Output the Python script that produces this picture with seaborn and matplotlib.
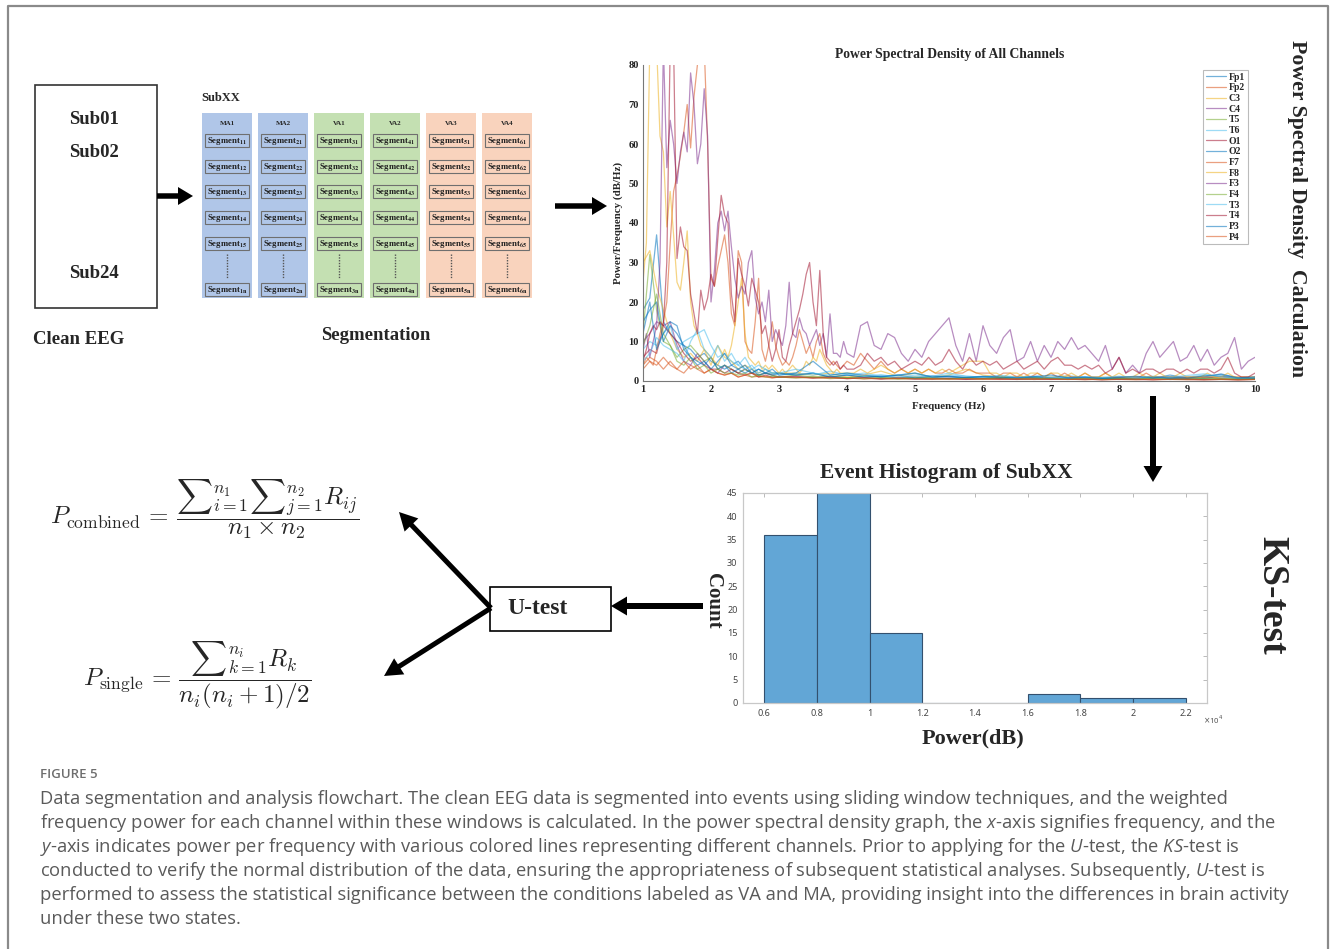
import matplotlib
matplotlib.use('Agg')
import numpy as np
import pandas as pd
import seaborn as sns
import matplotlib.pyplot as plt
from matplotlib.patches import Rectangle, FancyArrow

W, H = 1331, 949

# ---- PSD data ----
# prominent channels sampled on a finer grid
freq_hi = np.round(np.concatenate([np.arange(1.0, 4.001, 0.05), np.arange(4.1, 10.001, 0.1)]), 2)
# the quiet channels on a coarser grid
freq_lo = np.round(np.concatenate([np.arange(1.0, 3.001, 0.1), np.arange(3.25, 10.001, 0.25)]), 2)

F3 = [8, 12, 6, 10, 14, 30, 85, 54, 66, 60,
      50, 58, 63, 58, 78, 70, 55, 60, 74, 62,
      20, 28, 40, 43, 38, 43, 34, 26, 21, 24,
      22, 30, 33, 21, 17, 20, 15, 23, 10, 13,
      11, 9, 14, 25, 12, 11, 16, 13, 12, 9,
      11, 13, 9, 12, 6, 17, 7, 7, 6, 10,
      7,
      6, 14, 15, 9, 8, 12, 11, 7, 5, 8,
      6, 10, 12, 14, 16, 9, 5, 12, 5, 14,
      9, 7, 11, 13, 5, 6, 10, 5, 9, 6,
      10, 8, 11, 8, 9, 7, 5, 9, 3, 6,
      2, 4, 2, 7, 10, 6, 8, 10, 5, 6,
      9, 5, 8, 4, 6, 7, 11, 3, 5, 6]
T4 = [5, 8, 12, 14, 13, 15, 14, 30, 85, 85,
      31, 39, 34, 33, 22, 17, 12, 23, 18, 21,
      27, 24, 36, 47, 42, 40, 22, 15, 31, 27,
      24, 19, 26, 23, 20, 12, 14, 9, 5, 8,
      13, 6, 5, 9, 12, 15, 18, 22, 27, 30,
      20, 14, 28, 12, 6, 5, 4, 5, 3, 4,
      3,
      3, 4, 7, 5, 6, 4, 5, 3, 4, 5,
      4, 6, 4, 5, 8, 5, 3, 6, 4, 5,
      4, 5, 3, 4, 5, 3, 4, 5, 3, 5,
      6, 4, 4, 3, 4, 3, 4, 2, 3, 6,
      2, 3, 2, 3, 3, 2, 3, 3, 2, 3,
      2, 3, 3, 2, 3, 6, 2, 1, 1, 2]
F8 = [25, 35, 85, 85, 85, 62, 58, 39, 48, 37,
      25, 23, 30, 38, 20, 14, 12, 9, 8, 7,
      6, 5, 4, 6, 8, 6, 9, 14, 20, 26,
      12, 6, 5, 4, 5, 3, 4, 3, 4, 3,
      2, 3, 2, 3, 4, 3, 2, 3, 5, 4,
      6, 5, 8, 6, 4, 3, 2, 3, 2, 2,
      2,
      2, 3, 2, 3, 4, 3, 2, 3, 2, 3,
      2, 3, 2, 3, 2, 3, 4, 5, 5, 5,
      2, 2, 1, 2, 2, 1, 2, 2, 1, 2,
      2, 1, 2, 1, 2, 1, 1, 2, 1, 2,
      1, 1, 2, 1, 1, 2, 1, 1, 2, 1,
      1, 1, 2, 1, 1, 2, 1, 1, 1, 1]
F7 = [4, 6, 5, 4, 8, 12, 15, 20, 35, 48,
      52, 57, 63, 70, 59, 72, 80, 85, 85, 60,
      26, 24, 29, 33, 37, 30, 17, 14, 33, 30,
      10, 8, 7, 15, 26, 8, 5, 9, 15, 9,
      6, 4, 5, 4, 6, 9, 13, 10, 7, 9,
      6, 10, 12, 7, 5, 4, 5, 4, 3, 4,
      5,
      4, 7, 5, 3, 5, 3, 2, 3, 2, 3,
      2, 3, 2, 2, 3, 2, 2, 3, 2, 2,
      2, 1, 2, 2, 1, 2, 1, 2, 1, 2,
      1, 2, 1, 1, 2, 1, 1, 2, 1, 1,
      1, 1, 1, 2, 1, 1, 1, 1, 1, 1,
      1, 1, 1, 1, 1, 1, 1, 1, 1, 1]

Fp1 = [18, 21, 37, 15, 12, 10, 9, 8, 6, 7, 5, 4, 3, 4, 5, 3, 2, 3, 2, 2, 2,
       1.5, 2, 1, 1.5, 1, 1.2, 0.8, 1, 0.8, 1.2, 0.8, 1, 0.7, 0.9, 0.8, 0.6, 0.9, 0.7, 0.8, 0.6, 0.9, 0.7, 1.5, 0.8, 1, 1.8, 0.8, 0.6]
Fp2 = [4, 6, 5, 3, 5, 3, 2, 4, 3, 2, 3, 2, 1.5, 2, 1, 1.5, 1, 1.2, 1, 0.8, 1,
       0.8, 1, 0.6, 0.8, 0.5, 0.7, 0.5, 0.6, 0.4, 0.6, 0.5, 0.4, 0.6, 0.4, 0.5, 0.4, 0.5, 0.3, 0.5, 0.4, 0.3, 0.5, 0.4, 0.3, 0.4, 0.5, 0.3, 0.4]
C3 = [30, 33, 24, 18, 12, 8, 6, 7, 5, 8, 4, 9, 6, 5, 3, 4, 3, 2, 3, 2, 2,
      2, 1.5, 2, 1, 1.5, 2.5, 1.2, 2, 1, 1.5, 3, 1.5, 1, 1.2, 0.8, 1, 1.2, 0.8, 1, 0.7, 0.9, 1.1, 0.8, 0.7, 1, 0.8, 0.6, 0.9]
C4 = [10, 12, 15, 14, 15, 9, 5, 4, 7, 5, 3, 2, 4, 3, 2, 3, 2, 1.5, 2, 1.5, 1,
      1.2, 0.8, 1, 0.7, 0.9, 0.6, 0.8, 0.5, 0.7, 0.6, 0.5, 0.7, 0.5, 0.6, 0.4, 0.5, 0.6, 0.4, 0.5, 0.4, 0.5, 0.6, 0.4, 0.5, 0.4, 0.5, 0.4, 0.5]
T5 = [12, 32, 18, 10, 9, 6, 8, 9, 7, 5, 6, 3, 4, 3, 2, 3, 2, 1.5, 2, 1.5, 1,
      1.5, 1, 1.3, 0.8, 1.2, 0.9, 0.7, 1, 0.8, 0.6, 0.9, 0.7, 0.8, 0.6, 0.9, 0.7, 0.5, 0.8, 0.6, 0.7, 0.5, 0.9, 0.6, 0.5, 0.7, 0.6, 0.5, 0.6]
T6 = [8, 10, 9, 12, 14, 8, 10, 11, 12, 13, 9, 6, 7, 5, 4, 3, 4, 2, 3, 2, 1.5,
      2, 1.5, 2.5, 1.5, 2, 1.2, 1.5, 2, 1, 1.5, 1.2, 1, 1.4, 1, 1.2, 0.9, 1.3, 1, 0.8, 1.1, 0.9, 1.2, 0.8, 1, 1.5, 1.2, 0.8, 1]
O1 = [6, 8, 7, 14, 12, 10, 7, 5, 6, 4, 3, 3, 2, 3, 2, 1.5, 2, 1, 1.5, 1, 1,
      1, 0.8, 1, 0.6, 0.8, 0.5, 0.7, 0.6, 0.5, 0.7, 0.4, 0.6, 0.5, 0.4, 0.6, 0.5, 0.4, 0.5, 0.3, 0.5, 0.4, 0.3, 0.5, 0.4, 0.3, 0.4, 0.3, 0.4]
O2 = [15, 18, 20, 10, 14, 12, 9, 6, 5, 4, 6, 3, 4, 2, 3, 2, 3, 1.5, 2, 1.5, 2,
      1.5, 2, 1, 1.5, 1, 1.2, 1.5, 0.8, 1.3, 1, 0.8, 1.1, 0.9, 0.7, 1, 0.8, 0.7, 0.9, 0.6, 0.8, 0.7, 1, 0.6, 0.8, 0.7, 1.2, 0.6, 0.7]
F4 = [9, 14, 22, 12, 9, 5, 4, 6, 3, 4, 2, 3, 2, 2, 1.5, 2, 1, 1.5, 1, 1.2, 1,
      0.8, 1, 0.7, 0.9, 0.6, 0.8, 0.5, 0.7, 0.6, 0.5, 0.7, 0.5, 0.9, 0.6, 0.5, 0.7, 0.5, 0.6, 0.4, 0.6, 0.5, 0.7, 0.4, 0.5, 0.6, 0.4, 0.5, 0.4]
T3 = [5, 7, 11, 9, 8, 7, 5, 10, 13, 8, 6, 9, 5, 7, 4, 6, 3, 4, 3, 2, 2,
      3, 2, 1.5, 2, 1.2, 1.6, 1, 1.5, 1.2, 2, 1.2, 1, 1.3, 0.9, 1.2, 1, 0.8, 1.1, 0.9, 1.2, 0.8, 1, 0.9, 1.4, 1.8, 1, 0.8, 0.9]
P3 = [12, 20, 8, 12, 15, 14, 8, 6, 4, 5, 3, 5, 7, 4, 3, 4, 2, 3, 2, 3, 1.5,
      2, 5, 1.5, 2, 1.5, 1, 1.5, 2, 1, 1.2, 0.9, 1.2, 1, 0.8, 1.1, 1.5, 0.8, 1, 0.7, 0.9, 1.2, 0.8, 1, 0.7, 1.3, 1.6, 0.8, 1]
P4 = [3, 5, 4, 6, 4, 3, 5, 3, 4, 2, 3, 2, 1.5, 2, 1, 1.5, 2, 1, 1.2, 0.8, 1,
      1, 0.7, 0.9, 0.6, 0.8, 0.5, 0.7, 0.5, 0.6, 0.4, 0.6, 0.5, 0.4, 0.6, 0.4, 0.5, 0.4, 0.5, 0.3, 0.4, 0.5, 0.3, 0.4, 0.5, 0.3, 0.4, 0.3, 0.4]

channels = ['Fp1', 'Fp2', 'C3', 'C4', 'T5', 'T6', 'O1', 'O2',
            'F7', 'F8', 'F3', 'F4', 'T3', 'T4', 'P3', 'P4']
psd_values = {'Fp1': Fp1, 'Fp2': Fp2, 'C3': C3, 'C4': C4, 'T5': T5, 'T6': T6,
              'O1': O1, 'O2': O2, 'F7': F7, 'F8': F8, 'F3': F3, 'F4': F4,
              'T3': T3, 'T4': T4, 'P3': P3, 'P4': P4}
hi_channels = ['F3', 'T4', 'F8', 'F7']

# ---- histogram data ----
hist_edges = [0.6, 0.8, 1.0, 1.2, 1.4, 1.6, 1.8, 2.0, 2.2]   # x 10^4
hist_counts = [36, 45, 15, 0, 0, 2, 1, 1]

# ---- segmentation grid ----
conditions = ['MA1', 'MA2', 'VA1', 'VA2', 'VA3', 'VA4']
cond_colors = ['#b0c6e8', '#b0c6e8', '#c4e0b2', '#c4e0b2', '#f9d3bd', '#f9d3bd']
seg_rows = ['1', '2', '3', '4', '5', 'n']

caption_lines = [
    "Data segmentation and analysis flowchart. The clean EEG data is segmented into events using sliding window techniques, and the weighted",
    "frequency power for each channel within these windows is calculated. In the power spectral density graph, the $x$-axis signifies frequency, and the",
    "$y$-axis indicates power per frequency with various colored lines representing different channels. Prior to applying for the $U$-test, the $KS$-test is",
    "conducted to verify the normal distribution of the data, ensuring the appropriateness of subsequent statistical analyses. Subsequently, $U$-test is",
    "performed to assess the statistical significance between the conditions labeled as VA and MA, providing insight into the differences in brain activity",
    "under these two states.",
]

# ---------------------------------------------------------------
sns.set_style('white')
plt.rcParams['font.family'] = ['Liberation Serif', 'DejaVu Serif']
plt.rcParams['mathtext.fontset'] = 'custom'
plt.rcParams['mathtext.rm'] = 'Open Sans'
plt.rcParams['mathtext.it'] = 'Open Sans:italic'
plt.rcParams['mathtext.bf'] = 'Open Sans:bold'

fig = plt.figure(figsize=(W / 100, H / 100), dpi=100)


def px_box(l, t, r, b):
    return [l / W, 1 - b / H, (r - l) / W, (b - t) / H]


bg = fig.add_axes([0, 0, 1, 1])
bg.set_xlim(0, W)
bg.set_ylim(H, 0)
bg.axis('off')

# outer frame (open at the bottom)
bg.plot([8, 8, 1328, 1328], [H, 6, 6, H], color='#8a8a8a', lw=1.6)

# clean EEG box
bg.add_patch(Rectangle((35, 85), 122, 223, fill=False, ec='#333333', lw=1.2))
for txt, yy in [('Sub01', 119), ('Sub02', 152), ('Sub24', 273)]:
    bg.text(94, yy, txt, ha='center', va='center', fontsize=13.5, fontweight='bold')
bg.text(79, 340, 'Clean EEG', ha='center', va='center', fontsize=13.5, fontweight='bold')


def arrow(x0, y0, x1, y1, w=5.5, hw=18, hl=15):
    bg.add_patch(FancyArrow(x0, y0, x1 - x0, y1 - y0, width=w, head_width=hw,
                            head_length=hl, length_includes_head=True,
                            color='black', lw=0))


arrow(157, 196, 193, 196)
arrow(555, 206, 607, 206)
arrow(1153, 396, 1153, 482, w=6, hw=19, hl=16)
arrow(703, 606, 611, 606, w=6, hw=19, hl=16)
arrow(491, 608, 399, 512, w=5, hw=19, hl=18)
arrow(491, 608, 384, 676, w=5, hw=19, hl=18)

# segmentation grid
bg.text(201, 98, 'SubXX', ha='left', va='center', fontsize=9, fontweight='bold')
seg_tops = [134, 160, 185, 211, 237, 283]
for ci, (cond, col) in enumerate(zip(conditions, cond_colors)):
    x0 = 202 + ci * 56
    bg.add_patch(Rectangle((x0, 113), 50, 185, fc=col, ec='none'))
    bg.text(x0 + 25, 123, cond, ha='center', va='center', fontsize=5, fontweight='bold')
    for ri, (r, top) in enumerate(zip(seg_rows, seg_tops)):
        bg.add_patch(Rectangle((x0 + 3, top), 44, 13, fc='none', ec='#6f6f6f', lw=0.8))
        bg.text(x0 + 25, top + 6.5, r'Segment$_{\mathbf{%d%s}}$' % (ci + 1, r),
                ha='center', va='center', fontsize=6.3, fontweight='bold',
                math_fontfamily='stix', color='#222222')
    bg.plot([x0 + 25, x0 + 25], [254, 279], color='#555555', lw=1.0, ls=(0, (1, 1)))
bg.text(376, 335, 'Segmentation', ha='center', va='center', fontsize=13.5, fontweight='bold')

# ---- PSD plot ----
matlab = ['#0072BD', '#D95319', '#EDB120', '#7E2F8E', '#77AC30', '#4DBEEE', '#A2142F']
palette = {ch: matlab[i % 7] for i, ch in enumerate(channels)}
frames = []
for ch in channels:
    fr = freq_hi if ch in hi_channels else freq_lo
    vals = psd_values[ch]
    assert len(fr) == len(vals), (ch, len(fr), len(vals))
    frames.append(pd.DataFrame({'freq': fr, 'power': vals, 'channel': ch}))
psd = pd.concat(frames, ignore_index=True)

ax1 = fig.add_axes(px_box(643, 65, 1255, 381))
sns.lineplot(data=psd, x='freq', y='power', hue='channel', hue_order=channels,
             palette=palette, estimator=None, linewidth=0.9, alpha=0.55, ax=ax1)
ax1.set_xlim(1, 10)
ax1.set_ylim(0, 80)
ax1.set_xticks(range(1, 11))
ax1.set_yticks(range(0, 81, 10))
for s in ['top', 'right']:
    ax1.spines[s].set_visible(False)
for s in ['left', 'bottom']:
    ax1.spines[s].set_color('#777777')
    ax1.spines[s].set_linewidth(0.8)
ax1.tick_params(direction='in', length=3, width=0.6, labelsize=7.5, pad=3, colors='#222222')
for lab in ax1.get_xticklabels() + ax1.get_yticklabels():
    lab.set_fontweight('bold')
ax1.set_xlabel('Frequency (Hz)', fontsize=7.8, fontweight='bold', labelpad=5)
ax1.set_ylabel('Power/Frequency (dB/Hz)', fontsize=7.8, fontweight='bold', labelpad=4)
handles, labels = ax1.get_legend_handles_labels()
leg = ax1.legend(handles, labels, loc='upper right', bbox_to_anchor=(0.996, 1.0),
                 prop={'weight': 'bold', 'size': 7}, handlelength=2.0,
                 handletextpad=0.3, labelspacing=0.17, borderpad=0.3,
                 frameon=True, fancybox=False, edgecolor='#aaaaaa')
leg.get_frame().set_linewidth(0.8)
bg.text(950, 54, 'Power Spectral Density of All Channels', ha='center', va='center',
        fontsize=9.8, fontweight='bold')
bg.text(1297, 209, 'Power Spectral Density  Calculation', ha='center', va='center',
        rotation=-90, fontsize=15.7, fontweight='bold')

# ---- histogram ----
ax2 = fig.add_axes(px_box(743, 493, 1207, 703))
mids = [(a + b) / 2 for a, b in zip(hist_edges[:-1], hist_edges[1:])]
sns.histplot(x=mids, weights=hist_counts, bins=hist_edges, color='#62a6d6', alpha=1,
             edgecolor='#33506e', linewidth=0.8, ax=ax2)
ax2.set_xlim(0.52, 2.28)
ax2.set_ylim(0, 45)
ax2.set_xticks(hist_edges)
ax2.set_xticklabels(['0.6', '0.8', '1', '1.2', '1.4', '1.6', '1.8', '2', '2.2'])
ax2.set_yticks(range(0, 46, 5))
ax2.set_xlabel('')
ax2.set_ylabel('')
for s in ax2.spines.values():
    s.set_color('#c8c8c8')
    s.set_linewidth(0.9)
ax2.tick_params(direction='in', length=3, width=0.6, colors='#b0b0b0', labelcolor='#444444',
                labelsize=6.5, top=True, right=True, pad=4)
for lab in ax2.get_xticklabels() + ax2.get_yticklabels():
    lab.set_family(['Noto Sans', 'DejaVu Sans'])
bg.text(1213, 720, r'$\times$10$^4$', ha='center', va='center', fontsize=5.5,
        color='#555555', family=['Noto Sans', 'DejaVu Sans'], math_fontfamily='dejavusans')
bg.text(946, 473, 'Event Histogram of SubXX', ha='center', va='center', fontsize=15.5,
        fontweight='bold')
bg.text(973, 738, 'Power(dB)', ha='center', va='center', fontsize=16, fontweight='bold')
bg.text(713, 601, 'Count', ha='center', va='center', rotation=-90, fontsize=15,
        fontweight='bold')
bg.text(1272, 595, 'KS-test', ha='center', va='center', rotation=-90, fontsize=27,
        fontweight='bold')

# ---- U-test and formulas ----
bg.add_patch(Rectangle((490, 587), 121, 44, fill=False, ec='black', lw=1.2))
bg.text(538, 609, 'U-test', ha='center', va='center', fontsize=17, fontweight='bold')
bg.text(50, 509, r'$P_{\mathrm{combined}} \,=\, \dfrac{{\sum}_{i=1}^{n_1}{\sum}_{j=1}^{n_2}R_{ij}}{n_1 \times n_2}$',
        ha='left', va='center', fontsize=18, math_fontfamily='cm')
bg.text(83, 675, r'$P_{\mathrm{single}} \,=\, \dfrac{{\sum}_{k=1}^{n_i}R_k}{n_i(n_i+1)/2}$',
        ha='left', va='center', fontsize=18, math_fontfamily='cm')

# ---- caption ----
bg.text(40, 775, 'FIGURE 5', ha='left', va='center', fontsize=9.5, color='#6e6e6e',
        family=['Open Sans', 'DejaVu Sans'], fontweight='semibold')
for i, line in enumerate(caption_lines):
    bg.text(40, 799 + 24 * i, line, ha='left', va='center', fontsize=13.2, color='#5a5a5a',
            family=['Open Sans', 'DejaVu Sans'])

fig.savefig('out.png', dpi=100)
